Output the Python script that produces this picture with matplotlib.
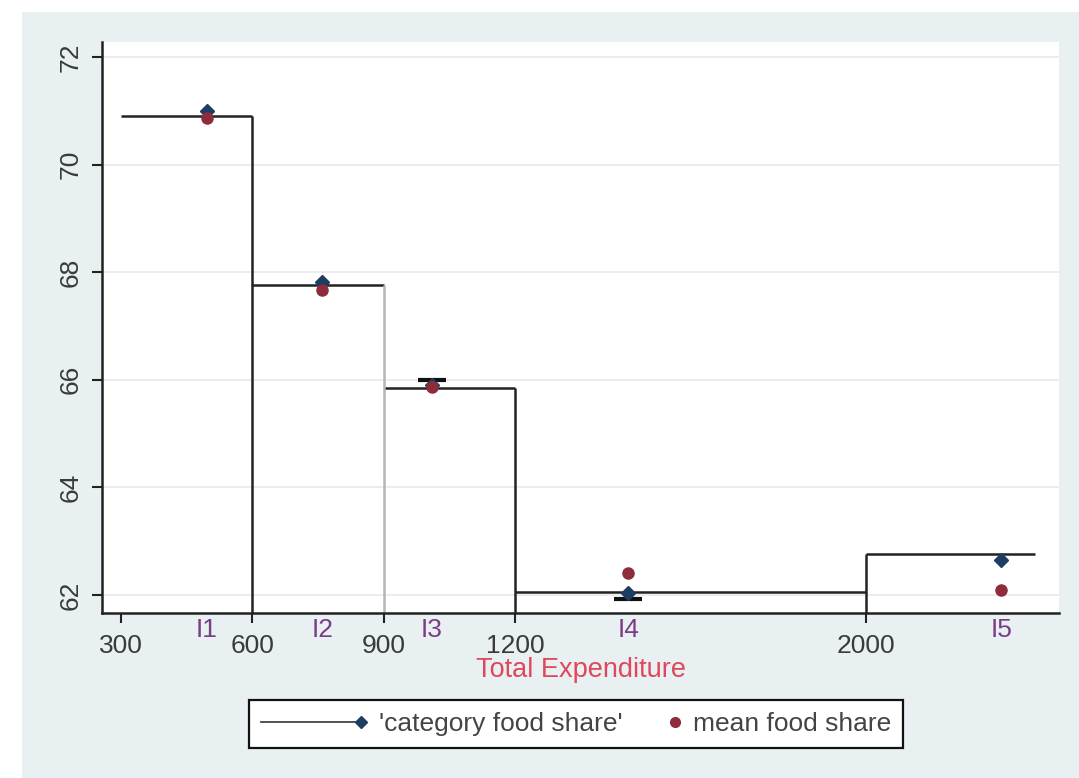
import numpy as np
import matplotlib
matplotlib.use("Agg")
import matplotlib.pyplot as plt
from matplotlib.lines import Line2D
from matplotlib.patches import Rectangle
from matplotlib.legend_handler import HandlerBase

# ---- data ----
edges = [300, 600, 900, 1200, 2000, 2385]
levels = [70.91, 67.76, 65.84, 62.05, 62.76]
group_x = [497, 760, 1010, 1457, 2307]
group_labels = ["I1", "I2", "I3", "I4", "I5"]
cat_share = [71.00, 67.81, 65.90, 62.04, 62.65]
mean_share = [70.86, 67.67, 65.86, 62.41, 62.09]
bar_x = [1010, 1457]
bar_y = [66.00, 61.93]
xticks = [300, 600, 900, 1200, 2000]
yticks = [62, 64, 66, 68, 70, 72]

FONT = ["Liberation Sans", "DejaVu Sans"]
plt.rcParams["font.family"] = FONT

NAVY = "#1e3d63"
MAROON = "#8e2c3b"
DARK = "#222222"

fig = plt.figure(figsize=(10.79, 7.78), dpi=100, facecolor="white")
fig.add_artist(Rectangle((22 / 1079, 0), 1 - 22 / 1079, 1 - 12 / 778,
                         transform=fig.transFigure, facecolor="#e9f0f2",
                         edgecolor="none", zorder=-10))

ax = fig.add_axes([0.0942, 0.2121, 0.8873, 0.7339])
ax.set_facecolor("white")
ax.set_xlim(257, 2439)
ax.set_ylim(61.665, 72.28)

# grid
ax.set_yticks(yticks)
ax.yaxis.grid(True, color="#e6e9ea", linewidth=1.2)
ax.set_axisbelow(True)

# step line
ax.hlines(levels, edges[:-1], edges[1:], colors=DARK, linewidth=1.8, zorder=2)
ybot = ax.get_ylim()[0]
vtops = [max(levels[i - 1], levels[i]) for i in range(1, len(levels))]
vcolors = [DARK, "#b5b5b5", DARK, DARK]
ax.vlines(edges[1:-1], ybot, vtops, colors=vcolors, linewidth=1.8, zorder=2)

# extra short bars
ax.plot(bar_x, bar_y, linestyle="none", marker="_", markersize=20,
        markeredgewidth=3, color="#111111", zorder=3)

# markers
ax.plot(group_x, cat_share, linestyle="none", marker="D", markersize=7,
        color=NAVY, zorder=4)
ax.plot(group_x, mean_share, linestyle="none", marker="o", markersize=8,
        color=MAROON, zorder=5)

# axes styling
for s in ["top", "right"]:
    ax.spines[s].set_visible(False)
for s in ["left", "bottom"]:
    ax.spines[s].set_color(DARK)
    ax.spines[s].set_linewidth(1.8)

ax.set_xticks(xticks)
ax.set_xticklabels([str(v) for v in xticks])
ax.tick_params(axis="x", length=7, width=1.5, color=DARK, pad=8,
               labelsize=19, labelcolor="#3a3a3a")
ax.tick_params(axis="y", length=7, width=1.5, color=DARK, pad=7,
               labelsize=19, labelcolor="#3a3a3a")
ax.set_yticklabels([str(v) for v in yticks], rotation=90, va="center")

# group labels
trans = ax.get_xaxis_transform()
for gx, gl in zip(group_x, group_labels):
    ax.text(gx, -0.03, gl, transform=trans, ha="center", va="center",
            fontsize=19, color="#7a3d86")

fig.text(581.5 / 1079, 1 - 670 / 778, "Total Expenditure", ha="center",
         va="center", fontsize=19.5, color="#e0475c")


class EndMarker(HandlerBase):
    def create_artists(self, legend, orig_handle, xdescent, ydescent,
                       width, height, fontsize, trans):
        y = (height - ydescent) / 2
        artists = []
        if orig_handle.get_linestyle() not in ("None", "none", ""):
            ln = Line2D([-xdescent, -xdescent + width], [y, y],
                        color=orig_handle.get_color(),
                        linewidth=orig_handle.get_linewidth())
            ln.set_transform(trans)
            artists.append(ln)
        mk = Line2D([-xdescent + width], [y], linestyle="none",
                    marker=orig_handle.get_marker(),
                    markersize=orig_handle.get_markersize(),
                    markerfacecolor=orig_handle.get_markerfacecolor(),
                    markeredgecolor=orig_handle.get_markeredgecolor())
        mk.set_transform(trans)
        artists.append(mk)
        return artists


h1 = Line2D([], [], color="#333333", linewidth=1.2, marker="D",
            markersize=6, markerfacecolor=NAVY, markeredgecolor=NAVY)
h2 = Line2D([], [], linestyle="none", marker="o", markersize=7,
            color=MAROON, markerfacecolor=MAROON, markeredgecolor=MAROON)
leg = fig.legend([h1, h2], ["'category food share'", "mean food share"],
                 loc="center", bbox_to_anchor=(576 / 1079, 1 - 724 / 778),
                 ncol=2, fontsize=19, frameon=True, fancybox=False,
                 edgecolor="#111111", facecolor="white", framealpha=1,
                 handlelength=3.8, handletextpad=0.68, columnspacing=-1.8,
                 borderpad=0.45, numpoints=1,
                 handler_map={Line2D: EndMarker()})
leg.get_frame().set_linewidth(1.6)
for t in leg.get_texts():
    t.set_color("#444444")

fig.savefig("out.png", dpi=100, facecolor="white")
